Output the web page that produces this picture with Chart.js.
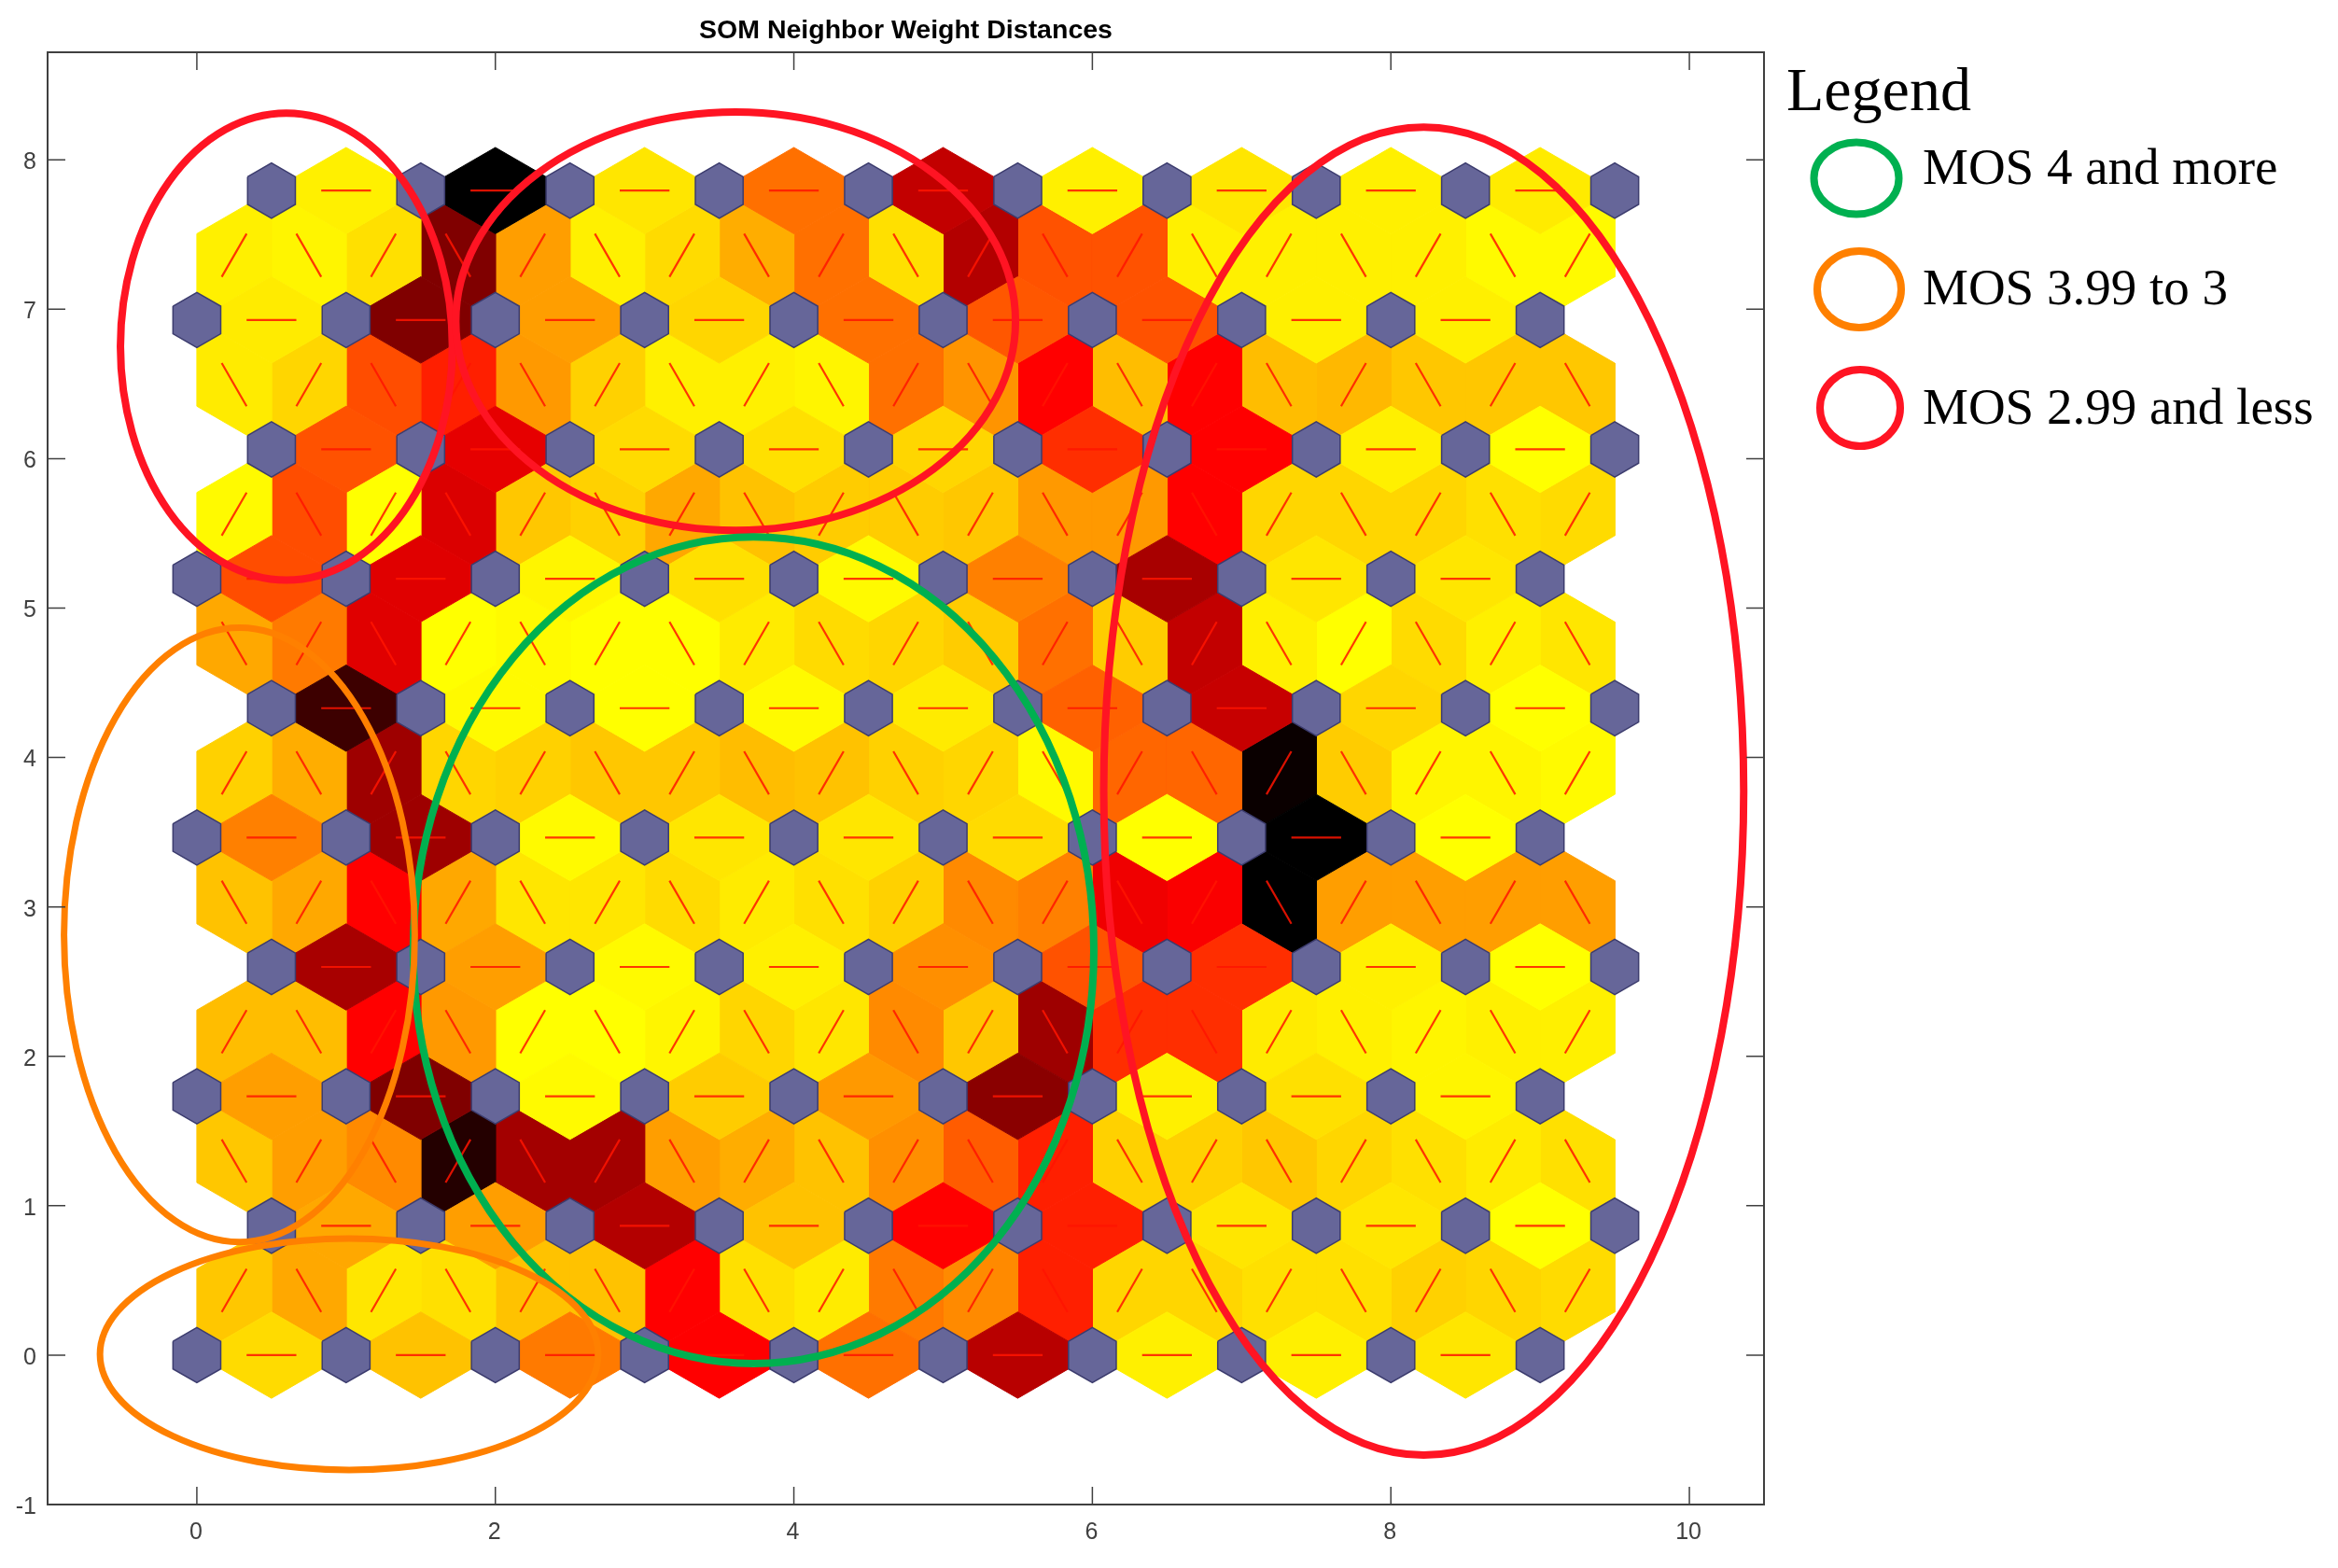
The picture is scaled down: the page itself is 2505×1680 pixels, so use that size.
<!DOCTYPE html>
<html><head><meta charset="utf-8">
<style>html,body{margin:0;padding:0;background:#fff}canvas{display:block}</style>
<script src="https://cdn.jsdelivr.net/npm/chart.js@4"></script>
</head><body>
<canvas id="c" width="2505" height="1680"></canvas>
<script>
// Tick labels
const tickX = [0,2,4,6,8,10];
const tickY = [-1,0,1,2,3,4,5,6,7,8];

// Neighbor distances (0 = yellow, 50 = red, 100 = black) along each neuron row
const row0 = [7,12,26,50,28,64,3,3,5];
const row1 = [17,19,65,12,50,44,5,5,0];
const row2 = [19,75,1,10,20,73,3,6,2];
const row3 = [67,19,1,3,22,34,41,3,0];
const row4 = [25,69,1,5,5,7,0,100,0];
const row5 = [88,1,0,1,4,31,61,8,0];
const row6 = [35,56,2,6,1,25,67,5,5];
const row7 = [34,55,7,6,8,41,50,3,0];
const row8 = [4,75,19,8,28,33,34,3,3];
const row9 = [3,100,5,28,62,3,5,3,4];

// Neighbor distances on the diagonal links between adjacent rows
const gap0 = [11,17,5,6,12,12,50,6,4,26,23,44,8,8,6,6,9,8,7];
const gap1 = [11,19,23,93,68,68,19,16,12,22,32,44,9,9,11,8,6,4,6];
const gap2 = [13,13,50,20,0,0,2,8,5,23,11,69,41,41,4,3,2,3,3];
const gap3 = [12,17,50,17,5,5,7,4,6,9,23,25,53,51,100,19,19,19,19];
const gap4 = [9,16,69,8,9,11,11,13,12,9,8,1,30,30,98,10,2,2,1];
const gap5 = [17,26,56,0,1,0,0,4,7,8,10,28,10,62,3,0,7,3,5];
const gap6 = [1,35,0,57,11,9,17,12,10,10,11,20,20,50,8,8,8,6,7];
const gap7 = [4,8,35,44,20,9,3,3,2,28,21,50,13,50,13,14,11,11,11];
const gap8 = [3,2,6,75,19,3,7,16,28,6,65,34,34,3,3,3,3,1,1];

// Hand-drawn MOS regions: [centre x, centre y, radius x, radius y] in axis units
const regionRed1 = [0.60,6.75,1.112,1.5625];
const regionRed2 = [3.61,6.92,1.875,1.40];
const regionRed3 = [8.22,3.775,2.144,4.444];
const regionGreen = [3.73,2.71,2.28,2.766];
const regionOrange1 = [0.285,2.8125,1.175,2.056];
const regionOrange2 = [1.02,0.006,1.669,0.775];

const legendLabels = ['MOS 4 and more','MOS 3.99 to 3','MOS 2.99 and less'];
const chartTitle = 'SOM Neighbor Weight Distances';

const rows = [row0,row1,row2,row3,row4,row5,row6,row7,row8,row9];
const gaps = [gap0,gap1,gap2,gap3,gap4,gap5,gap6,gap7,gap8];
const H = Math.sqrt(3)/2;
const SHORT = Math.sqrt(0.75)/3;

function heat(t){
  if(t<=50) return `rgb(255,${Math.round(255*(1-t/50))},0)`;
  return `rgb(${Math.round(255*(1-(t-50)/50))},0,0)`;
}
const edges = [];
rows.forEach((vals,r)=>{
  const x0 = r%2 ? 1 : 0.5;
  vals.forEach((v,i)=>edges.push({cx:x0+i,cy:r*H,ux:1,uy:0,v}));
});
gaps.forEach((vals,g)=>{
  vals.forEach((v,i)=>{
    const rising = (g%2===0) === (i%2===0);
    edges.push({cx:0.25+0.5*i,cy:(g+0.5)*H,ux:rising?0.5:-0.5,uy:H,v});
  });
});

const datasets = [];
edges.forEach(e=>{
  const px=-e.uy, py=e.ux;
  datasets.push({
    data:[
      {x:e.cx-0.5*e.ux,y:e.cy-0.5*e.uy},
      {x:e.cx+SHORT*px,y:e.cy+SHORT*py},
      {x:e.cx+0.5*e.ux,y:e.cy+0.5*e.uy},
      {x:e.cx-SHORT*px,y:e.cy-SHORT*py},
      {x:e.cx-0.5*e.ux,y:e.cy-0.5*e.uy}],
    showLine:true,fill:'shape',backgroundColor:heat(e.v),borderColor:heat(e.v),
    borderWidth:1,pointRadius:0,tension:0,order:30
  });
});
// short red link marks
const linkPts = [];
edges.forEach(e=>{
  linkPts.push({x:e.cx-e.ux/6,y:e.cy-e.uy/6},{x:e.cx+e.ux/6,y:e.cy+e.uy/6},{x:null,y:null});
});
datasets.push({data:linkPts,showLine:true,spanGaps:false,borderColor:'rgba(255,20,0,0.85)',borderWidth:2.2,pointRadius:0,tension:0,order:20});
// neurons
const HX=[-1,0,1,1,0,-1], HY=[1,2,1,-1,-2,-1];
for(let r=0;r<10;r++){
  for(let i=0;i<10;i++){
    const cx=i+(r%2?0.5:0), cy=r*H;
    const pts=HX.map((hx,k)=>({x:cx+0.32*hx*0.5,y:cy+0.32*HY[k]*SHORT}));
    pts.push(pts[0]);
    datasets.push({data:pts,showLine:true,fill:'shape',backgroundColor:'#666699',borderColor:'#3c3c6e',borderWidth:1.5,pointRadius:0,tension:0,order:10});
  }
}

const overlay = {
  id:'overlay',
  afterDatasetsDraw(chart){
    const {ctx,scales:{x,y},chartArea:a}=chart;
    ctx.save();
    const ell=(p,color,w)=>{
      const cx=x.getPixelForValue(p[0]), cy=y.getPixelForValue(p[1]);
      const rx=x.getPixelForValue(p[0]+p[2])-cx, ry=cy-y.getPixelForValue(p[1]+p[3]);
      ctx.beginPath();ctx.ellipse(cx,cy,rx,ry,0,0,Math.PI*2);
      ctx.strokeStyle=color;ctx.lineWidth=w;ctx.stroke();
    };
    const RED='#ff1423',ORG='#ff8000',GRN='#00b050';
    ell(regionRed1,RED,8);ell(regionRed2,RED,8);ell(regionRed3,RED,8);
    ell(regionGreen,GRN,8);
    ell(regionOrange1,ORG,7);ell(regionOrange2,ORG,7);
    // axes box with inward ticks
    ctx.strokeStyle='#404040';ctx.lineWidth=2;
    ctx.strokeRect(a.left,a.top,a.right-a.left,a.bottom-a.top);
    ctx.lineWidth=1.5;
    ctx.beginPath();
    x.ticks.forEach(t=>{const p=x.getPixelForValue(t.value);
      ctx.moveTo(p,a.bottom);ctx.lineTo(p,a.bottom-19);ctx.moveTo(p,a.top);ctx.lineTo(p,a.top+19);});
    y.ticks.forEach(t=>{const p=y.getPixelForValue(t.value);
      ctx.moveTo(a.left,p);ctx.lineTo(a.left+19,p);ctx.moveTo(a.right,p);ctx.lineTo(a.right-19,p);});
    ctx.stroke();
    // legend
    ctx.fillStyle='#000';ctx.textBaseline='alphabetic';ctx.textAlign='left';
    ctx.font='66px "Liberation Serif"';
    ctx.fillText('Legend',1914,118);
    const marks=[[1989,191,45.5,38.6,GRN,197],[1992,310,45,41,ORG,326],[1993,437,43,41,RED,454]];
    ctx.font='55px "Liberation Serif"';
    marks.forEach((m,i)=>{
      ctx.beginPath();ctx.ellipse(m[0],m[1],m[2],m[3],0,0,Math.PI*2);
      ctx.strokeStyle=m[4];ctx.lineWidth=8;ctx.stroke();
      ctx.fillText(legendLabels[i],2060,m[5]);
    });
    ctx.restore();
  }
};

const tickFont={family:'"Liberation Sans"',size:25};
new Chart(document.getElementById('c'),{
  type:'scatter',
  data:{datasets},
  plugins:[overlay],
  options:{
    responsive:false,animation:false,devicePixelRatio:1,
    layout:{padding:{left:0,top:0,right:615,bottom:0}},
    plugins:{
      legend:{display:false},tooltip:{enabled:false},
      title:{display:true,text:chartTitle,fullSize:false,color:'#000',
        font:{family:'"Liberation Sans"',size:28.5,weight:'bold',lineHeight:1.2},
        padding:{top:16,bottom:5.8}}
    },
    scales:{
      x:{type:'linear',min:-1,max:10.5,
        grid:{display:false,drawTicks:false},border:{display:false},
        afterBuildTicks:s=>{s.ticks=tickX.map(v=>({value:v}));},
        afterFit:s=>{s.height=68;},
        ticks:{font:tickFont,color:'#404040',padding:15,labelOffset:-1,maxRotation:0,autoSkip:false}},
      y:{type:'linear',min:-1,max:8.72,
        grid:{display:false,drawTicks:false},border:{display:false},
        afterBuildTicks:s=>{s.ticks=tickY.map(v=>({value:v}));},
        afterFit:s=>{s.width=51;},
        ticks:{font:tickFont,color:'#404040',padding:12,labelOffset:3,autoSkip:false}}
    }
  }
});
</script>
</body></html>
